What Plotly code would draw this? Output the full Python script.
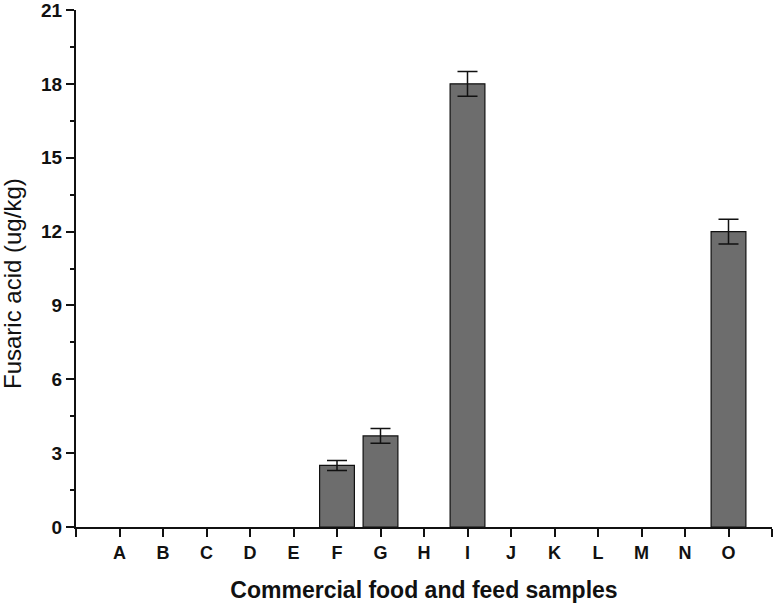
import plotly.graph_objects as go

categories = ["A", "B", "C", "D", "E", "F", "G", "H", "I", "J", "K", "L", "M", "N", "O"]
values = [0, 0, 0, 0, 0, 2.5, 3.7, 0, 18.0, 0, 0, 0, 0, 0, 12.0]
errors = [0, 0, 0, 0, 0, 0.2, 0.3, 0, 0.5, 0, 0, 0, 0, 0, 0.5]
y_ticks = [0, 3, 6, 9, 12, 15, 18, 21]

positions = list(range(1, len(categories) + 1))
shown_vals = [v if v > 0 else None for v in values]
show_err = [e if v > 0 else None for v, e in zip(values, errors)]

fig = go.Figure()
fig.add_trace(go.Bar(
    x=positions, y=shown_vals, width=0.8,
    marker=dict(color="#6d6d6d", line=dict(color="#111111", width=1.2)),
    error_y=dict(type="data", array=show_err, visible=True, color="#111111",
                 thickness=1.5, width=10),
    hoverinfo="skip",
))

fig.update_layout(
    width=774, height=606,
    margin=dict(l=76, r=2, t=10, b=79),
    plot_bgcolor="white", paper_bgcolor="white",
    showlegend=False,
    font=dict(family="Liberation Sans, Arial, sans-serif", color="#111111"),
)
fig.update_xaxes(
    range=[0, len(categories) + 1],
    tickvals=[0] + positions + [len(categories) + 1],
    ticktext=[""] + categories + [""],
    showgrid=False, zeroline=False, automargin=False,
    showline=True, linecolor="#111111", linewidth=2,
    ticks="outside", ticklen=8, tickwidth=2, tickcolor="#111111",
    tickfont=dict(size=18, weight="bold"),
    title=dict(text="Commercial food and feed samples",
               font=dict(size=23, weight="bold"), standoff=20),
)
fig.update_yaxes(
    range=[0, 21],
    tickvals=y_ticks,
    showgrid=False, zeroline=False, automargin=False,
    ticklabeloverflow="allow",
    showline=True, linecolor="#111111", linewidth=2,
    ticks="outside", ticklen=8, tickwidth=2, tickcolor="#111111",
    tickfont=dict(size=19, weight="bold"),
    minor=dict(dtick=1.5, ticks="outside", ticklen=4, tickwidth=2, tickcolor="#111111"),
)
fig.add_annotation(
    text="Fusaric acid (ug/kg)", textangle=-90, showarrow=False,
    xref="paper", yref="paper", x=0, y=0.47, xshift=-64,
    xanchor="center", yanchor="middle",
    font=dict(size=24, color="#111111"),
)

fig.write_html("out.html", config={"displayModeBar": False},
               post_script="document.body.style.margin='0';")
